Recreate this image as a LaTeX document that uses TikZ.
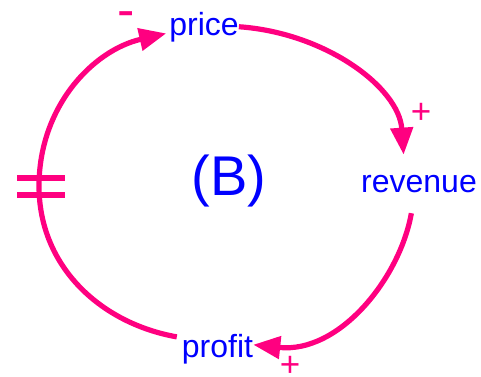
\documentclass[tikz,border=0pt]{standalone}
\usepackage{fontspec}
\setmainfont{Liberation Sans}
\usetikzlibrary{arrows.meta}
\definecolor{linkpink}{RGB}{255,0,128}
\definecolor{varblue}{RGB}{0,0,255}
\tikzset{
  var/.style={text=varblue, inner sep=0pt, anchor=base, font=\fontsize{32}{36}\selectfont},
  link/.style={draw=linkpink, line width=5.2pt, -{Triangle[length=27pt,width=22pt]}},
  polarity/.style={text=linkpink, inner sep=0pt, anchor=base, font=\fontsize{35}{40}\selectfont},
  delaybar/.style={draw=linkpink, line width=5.7pt}
}
\begin{document}
\begin{tikzpicture}[x=1pt, y=1pt]
  \useasboundingbox (0,0) rectangle (481,-376);

  \node[var] (price) at (204,-35) {price};
  \node[var] (revenue) at (419,-192) {revenue};
  \node[var] (profit) at (217.5,-357) {profit};
  \node[var, font=\fontsize{56}{60}\selectfont] (loop) at (229,-195) {(B)};
  \coordinate (delay) at (39,-186);

  \draw[link, shorten >=20pt] (price.east) to[out=-4, in=94] ([xshift=-14pt]revenue.north);
  \draw[link, shorten <=21pt] ([xshift=-4pt]revenue.south) to[out=-100, in=-6] ([yshift=4pt]profit.east);
  \draw[link, shorten <=5pt, shorten >=3pt] ([yshift=11pt]profit.west) to[out=170, in=-90] (delay)
    to[out=90, in=193] ([yshift=-6pt]price.west);

  \draw[delaybar] ([shift={(-22pt,8pt)}]delay) -- ++(48,0);
  \draw[delaybar] ([shift={(-22pt,-9.3pt)}]delay) -- ++(48,0);

  \node[polarity, font=\fontsize{52}{56}\selectfont] (minusprice) at (126,-27) {-};
  \node[polarity] (plusrevenue) at (421,-123.5) {+};
  \node[polarity] (plusprofit) at (290,-376) {+};
\end{tikzpicture}
\end{document}
